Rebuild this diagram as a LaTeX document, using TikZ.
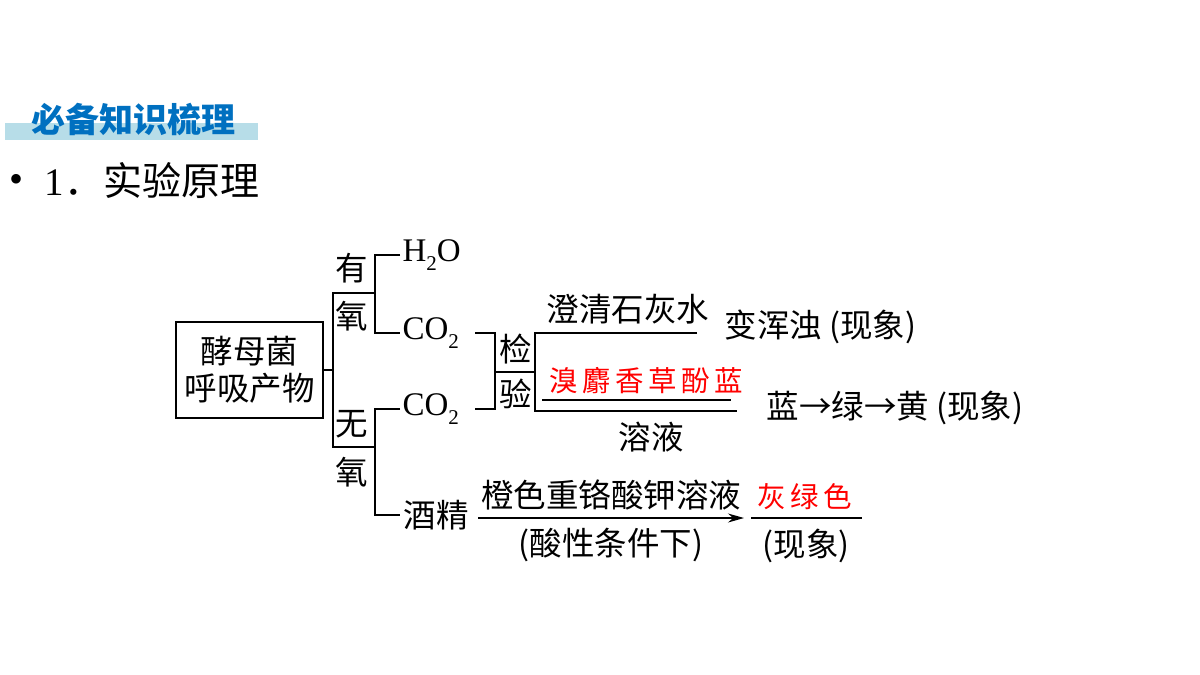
\documentclass[tikz,border=0pt]{standalone}
\usepackage{fontspec}
\setmainfont{Liberation Serif}
\newfontfamily\cjk{Noto Sans CJK SC}
\newfontfamily\cjkred[LetterSpace=16]{Noto Sans CJK SC}
\usetikzlibrary{arrows,arrows.meta}
\definecolor{titleblue}{RGB}{0,112,192}
\definecolor{bandblue}{RGB}{183,221,232}
\newcommand{\sub}[1]{\raisebox{-.6ex}{\fontsize{21}{21}\selectfont #1}}
\tikzset{
	txt/.style={inner sep=0pt,font=\fontsize{32.5}{37}\selectfont\cjk},
	lat/.style={inner sep=2pt,font=\fontsize{33}{37}\selectfont},
	redtxt/.style={inner sep=0pt,text=red,font=\fontsize{28.5}{30}\selectfont\cjkred}
}

\begin{document}
\begin{tikzpicture}[x=1pt,y=-1pt,line width=1.3pt]
		\useasboundingbox (0,0) rectangle (1200,675);
		% title
		\fill[bandblue] (5,123) rectangle (258,140);
		\node[inner sep=0pt,text=titleblue,font=\fontsize{34}{36}\selectfont\cjk\bfseries] (T) at (133,119) {必备知识梳理};
		\node[inner sep=0pt,font=\fontsize{40}{40}\selectfont] (P) at (17,183) {\textbullet};
		\node[inner sep=0pt,anchor=west,font=\fontsize{39}{42}\selectfont] (H) at (44,181) {1\cjk．实验原理};
		%
		\node[draw,txt,minimum width=147,minimum height=96,align=center] (A) at (249.5,370) {酵母菌\\呼吸产物};
		\coordinate (J) at (333,370);
		\coordinate (Y) at (333,293);
		\coordinate (Y') at (375,293);
		\coordinate (W) at (333,447);
		\coordinate (W') at (375,447);
		\node[txt] (Y1) at (352,268) {有};
		\node[txt] (Y2) at (352,316) {氧};
		\node[txt] (W1) at (352,424) {无};
		\node[txt] (W2) at (352,472) {氧};
		%
		\node[lat,anchor=west] (B) at (400,255) {H\sub{2}O};
		\node[lat,anchor=west] (B') at (400,333) {CO\sub{2}};
		\node[lat,anchor=west] (C) at (400,409) {CO\sub{2}};
		\node[txt,anchor=west,inner sep=3pt] (C') at (400,515) {酒精};
		%
		\coordinate (K1) at (475,333);
		\coordinate (K2) at (495,333);
		\coordinate (K3) at (495,409);
		\coordinate (K4) at (475,409);
		\coordinate (K5) at (495,372);
		\coordinate (K6) at (535,372);
		\node[txt] (D1) at (516,349) {检};
		\node[txt] (D2) at (516,394) {验};
		\coordinate (E) at (535,333);
		\coordinate (E') at (535,411);
		\coordinate (F) at (697,333);
		\coordinate (F') at (737,411);
		\coordinate (G) at (542,400);
		\coordinate (G') at (731,400);
		\node[txt] (L1) at (628,309) {澄清石灰水};
		\node[txt,anchor=west] (L2) at (724,327) {变浑浊 (现象)};
		\node[redtxt] (R1) at (646,381) {溴麝香草酚蓝};
		\node[txt] (L3) at (651,437) {溶液};
		\node[txt,anchor=west] (L4) at (766,408) {蓝→绿→黄 (现象)};
		%
		\coordinate (M) at (478,518);
		\coordinate (M') at (744,518);
		\coordinate (N) at (751,518);
		\coordinate (N') at (862,518);
		\node[redtxt] (R2) at (805,497) {灰绿色};
		\node[txt] (L5) at (806,546) {(现象)};
		%
		\draw (A.east) -- (J);
		\draw (Y') -- (Y) -- (W) -- (W');
		\draw (B.west) -| (Y') |- (B'.west);
		\draw (C.west) -| (W') |- (C'.west);
		\draw (K1) -- (K2) -- (K3) -- (K4);
		\draw (K5) -- (K6);
		\draw (F) -- (E) -- (E') -- (F');
		\draw (G) -- (G');
		\draw (N) -- (N');
		\path[font=\fontsize{32.5}{37}\selectfont\cjk]
		(M) edge[-{Stealth[length=16pt,width=9pt]}] node[above=4pt]{橙色重铬酸钾溶液} node[below=6pt]{(酸性条件下)} (M');
	\end{tikzpicture}
\end{document}
